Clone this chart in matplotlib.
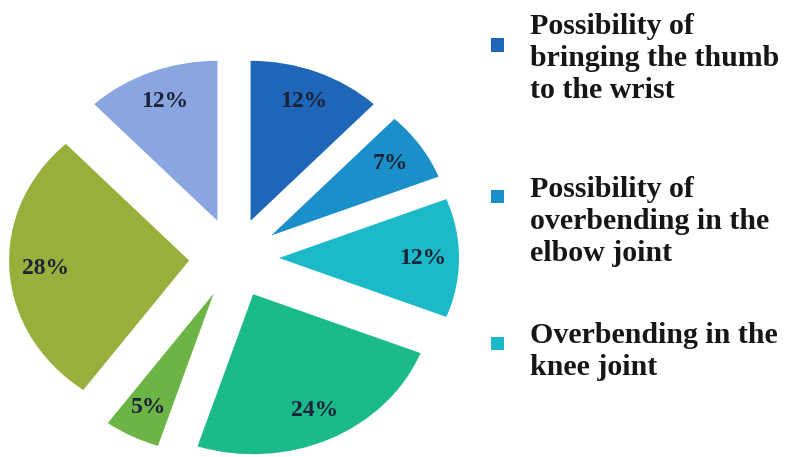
import matplotlib
matplotlib.use("Agg")
import matplotlib.pyplot as plt
from matplotlib.patches import Rectangle

# Share of each category (percent), clockwise from 12 o'clock
values = [12, 7, 12, 24, 5, 28, 12]
colors = ["#1f66b9", "#1b8fc9", "#1cbac9", "#1bba8a", "#6cb446", "#97b03c", "#8aa5df"]
legend_labels = [
    "Possibility of\nbringing the thumb\nto the wrist",
    "Possibility of\noverbending in the\nelbow joint",
    "Overbending in the\nknee joint",
]

W, H = 789, 457
fig = plt.figure(figsize=(W / 100, H / 100), dpi=100)
ax = fig.add_axes([0, 0, 1, 1])

wedges, texts, autotexts = ax.pie(
    values,
    colors=colors,
    startangle=90,
    counterclock=False,
    explode=[0.25] * len(values),
    autopct=lambda p: f"{p:.0f}%",
    pctdistance=0.8,
    wedgeprops=dict(linewidth=0),
    textprops=dict(fontsize=17, fontweight="bold", family="Liberation Serif",
                   color="#1c2238"),
)

# Pie is drawn slightly wider than tall; place its centre at (234, 258) px
cx, cy, sx, sy = 234, 258, 180, 160
ax.set_aspect("auto")
ax.set_xlim(-cx / sx, (W - cx) / sx)
ax.set_ylim(-(H - cy) / sy, cy / sy)
ax.axis("off")

# Legend for the first three categories
square_y = [45, 196, 343]
text_top = [13, 176, 322]
for i, lab in enumerate(legend_labels):
    s = 13
    fig.patches.append(Rectangle((491 / W, 1 - (square_y[i] + s / 2) / H), s / W, s / H,
                                 transform=fig.transFigure, facecolor=colors[i],
                                 edgecolor="none"))
    fig.text(530 / W, 1 - text_top[i] / H, lab, ha="left", va="top",
             fontsize=21.5, fontweight="bold", family="Liberation Serif",
             color="#161616", linespacing=1.24)

fig.savefig("out.png", dpi=100)
